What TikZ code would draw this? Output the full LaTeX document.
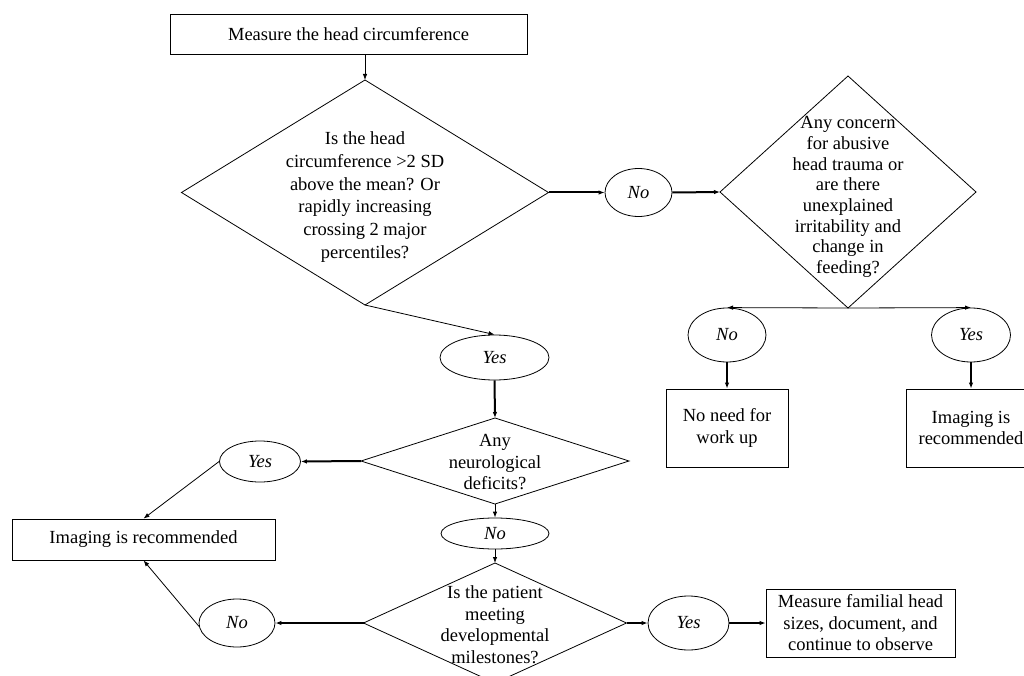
\documentclass[tikz,border=0pt]{standalone}
\usepackage{fontspec}
\setmainfont{Liberation Serif}
\usetikzlibrary{shapes.geometric,arrows.meta}
\begin{document}
\begin{tikzpicture}[x=1pt,y=-1pt,
  every node/.style={font=\fontsize{18.5}{21.5}\selectfont},
  box/.style={draw, line width=0.8pt, rectangle, inner sep=0pt, align=center},
  dia/.style={draw, line width=0.8pt, diamond, inner sep=0pt, outer sep=0pt},
  ell/.style={draw, line width=0.8pt, ellipse, inner sep=0pt, font=\fontsize{18.5}{21.5}\selectfont\itshape},
  tarr/.style={line width=0.8pt, -{Latex[length=6pt,width=4.5pt]}},
  barr/.style={line width=2pt, -{Latex[length=6pt,width=4.5pt]}},
]
\useasboundingbox (0,0) rectangle (1024,676);

\node[box, minimum width=357pt, minimum height=40pt] (b1) at (348.5,34) {Measure the head circumference};
\node[dia, minimum width=367pt, minimum height=225pt,
  label={[align=center,yshift=-4.5pt,font=\fontsize{18.5}{22.8}\selectfont]center:Is the head\\circumference >2 SD\\above the mean? Or\\rapidly increasing\\crossing 2 major\\percentiles?}] (d1) at (365,192.5) {};
\node[ell, minimum width=67pt, minimum height=48pt] (n1) at (638.5,192.5) {No};
\node[dia, minimum width=256pt, minimum height=232pt,
  label={[align=center,yshift=-5pt,font=\fontsize{18.5}{20.7}\selectfont]center:Any concern\\for abusive\\head trauma or\\are there\\unexplained\\irritability and\\change in\\feeding?}] (d2) at (848,192) {};
\node[ell, minimum width=78pt, minimum height=54pt] (n2) at (727,335) {No};
\node[ell, minimum width=79pt, minimum height=54pt] (y2) at (971,335) {Yes};
\node[box, minimum width=122pt, minimum height=78pt] (b2) at (727,428) {No need for\\work up};
\node[box, minimum width=130pt, minimum height=78pt] (b3) at (971,428) {Imaging is\\recommended};
\node[ell, minimum width=109pt, minimum height=45pt] (y1) at (494.5,357.5) {Yes};
\node[dia, minimum width=268pt, minimum height=86pt,
  label={[align=center,yshift=-1.5pt]center:Any\\neurological\\deficits?}] (d3) at (495,461) {};
\node[ell, minimum width=81pt, minimum height=41pt] (y3) at (260,461.5) {Yes};
\node[box, minimum width=263pt, minimum height=41pt] (b4) at (143.5,539.5) {Imaging is recommended};
\node[ell, minimum width=108pt, minimum height=31pt] (n3) at (495,533.5) {No};
\node[dia, minimum width=263pt, minimum height=120pt,
  label={[align=center,yshift=-1.5pt]center:Is the patient\\meeting\\developmental\\milestones?}] (d4) at (495,623) {};
\node[ell, minimum width=76pt, minimum height=48pt] (n4) at (237,623) {No};
\node[ell, minimum width=81pt, minimum height=54pt] (y4) at (688.5,623) {Yes};
\node[box, minimum width=189pt, minimum height=68pt] (b5) at (860.5,623) {Measure familial head\\sizes, document, and\\continue to observe};

\draw[tarr] (b1.south -| d1.north) -- (d1.north);
\draw[barr] (d1.east) -- (n1.west);
\draw[barr] (n1.east) -- (d2.west);
\draw[tarr] (d2.south) -- (n2.north);
\draw[tarr] (d2.south) -- (y2.north);
\draw[barr] (n2.south) -- (b2.north);
\draw[barr] (y2.south) -- (b3.north);
\draw[tarr] (d1.south) -- (y1.north);
\draw[barr] (y1.south) -- (d3.north);
\draw[barr] (d3.west) -- (y3.east);
\draw[tarr] (y3.west) -- (b4.north);
\draw[tarr] (d3.south) -- (n3.north);
\draw[tarr] (n3.south) -- (d4.north);
\draw[barr] (d4.west) -- (n4.east);
\draw[tarr] (n4.185) -- (b4.south);
\draw[barr] (d4.east) -- (y4.west);
\draw[barr] (y4.east) -- (b5.west);
\end{tikzpicture}
\end{document}
